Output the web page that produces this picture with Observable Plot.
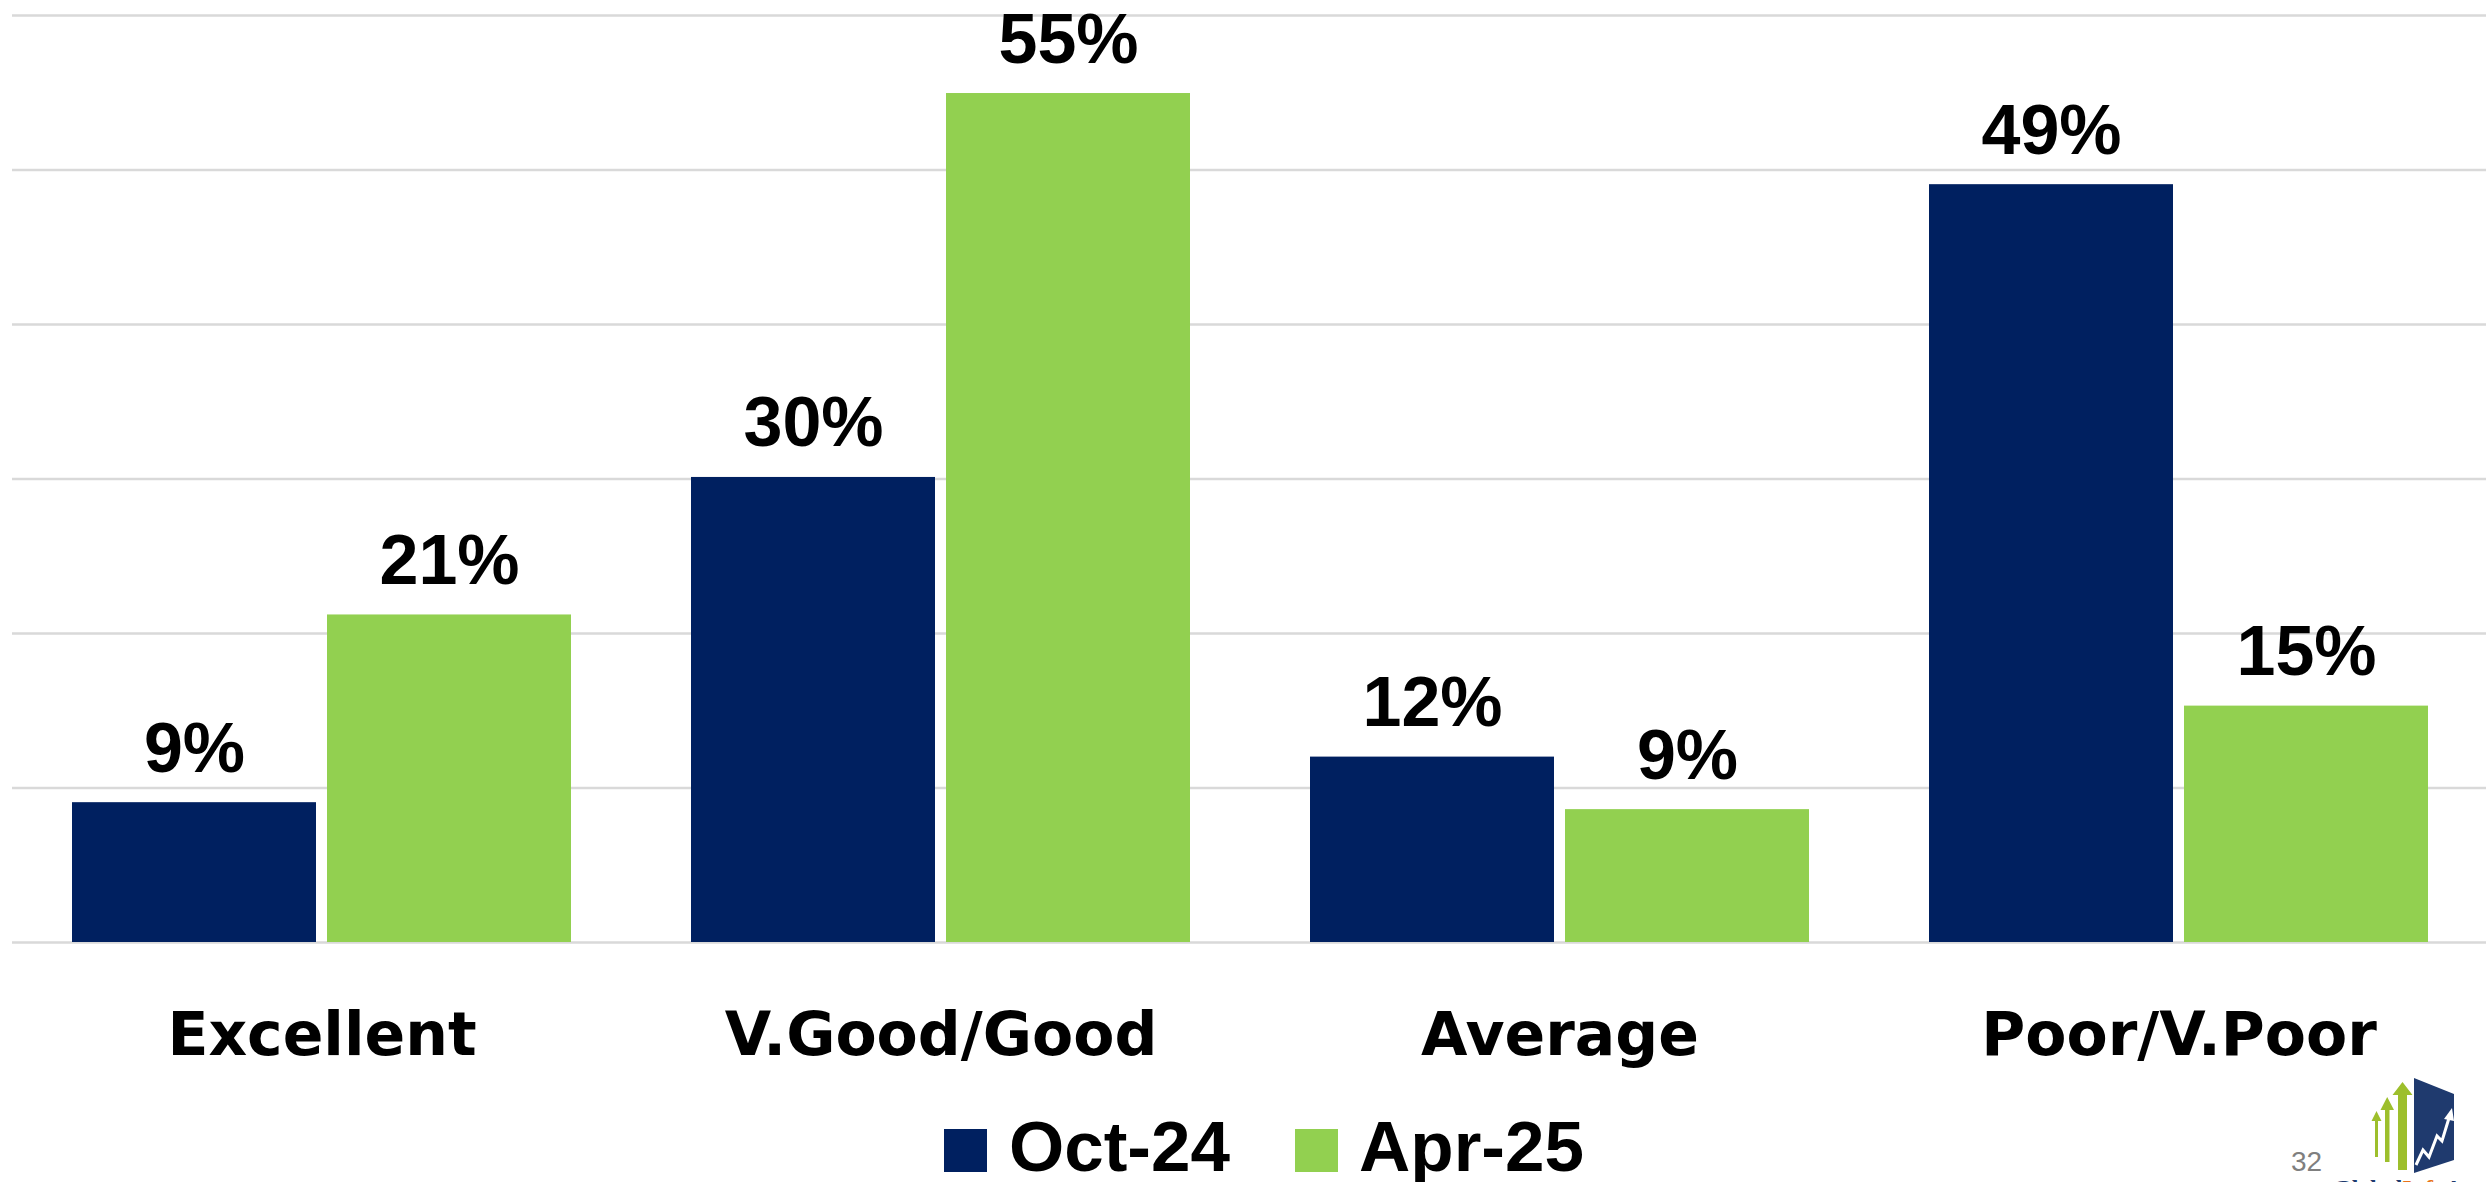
<!DOCTYPE html>
<html>
<head>
<meta charset="utf-8">
<script src="https://cdn.jsdelivr.net/npm/d3@7"></script>
<script src="https://cdn.jsdelivr.net/npm/@observablehq/plot@0.6"></script>
<style>
  html, body { margin: 0; padding: 0; background: #ffffff; overflow: hidden; }
  #wrap { position: relative; width: 2486px; height: 1182px; background: #ffffff; }
  #chart svg { display: block; }
  #chart g[aria-label="fx-axis tick label"] text { font-family: "DejaVu Sans", sans-serif; font-weight: bold; }
  #legend { position: relative; width: 2486px; height: 82px; font-family: "Liberation Sans", Arial, sans-serif; font-weight: bold; font-size: 71px; color: #000; }
  .sw { position: absolute; top: 29px; width: 43px; height: 43px; }
  .lt { position: absolute; top: 17px; line-height: 60px; white-space: nowrap; }
  #pagenum { position: absolute; left: 2291px; top: 1148px; font-family: "Liberation Sans", Arial, sans-serif; font-size: 28px; line-height: 28px; color: #7f7f7f; }
  #logo { position: absolute; left: 2320px; top: 1070px; }
</style>
</head>
<body>
<div id="wrap">
  <div id="chart"></div>
  <div id="legend"></div>
  <div id="pagenum">32</div>
  <svg id="logo" width="166" height="112" viewBox="2320 1070 166 112">
    <g fill="#9dbf2c">
      <polygon points="2375,1157 2378,1157 2378,1121 2381.5,1121 2376.5,1111 2371.5,1121 2375,1121"/>
      <polygon points="2385,1162 2389.5,1162 2389.5,1110 2394,1110 2387.2,1097 2380.5,1110 2385,1110"/>
      <polygon points="2398,1170 2407,1170 2407,1095 2412.5,1095 2402.5,1082 2392.5,1095 2398,1095"/>
    </g>
    <polygon fill="#1f3a6e" points="2414,1078 2454,1094 2454,1160 2414,1173"/>
    <polyline fill="none" stroke="#ffffff" stroke-width="3" points="2416,1165 2423,1150 2429,1157 2437,1136 2442,1141 2449,1118"/>
    <polygon fill="#ffffff" points="2444,1119 2452,1108 2454,1121"/>
    <text x="2333" y="1196" font-family="Liberation Serif, serif" font-size="24" font-weight="bold"><tspan fill="#1f3a6e">Global</tspan><tspan fill="#e8731a">Info</tspan><tspan fill="#1f3a6e">Analytics</tspan></text>
  </svg>
</div>
<script>
// ---- data ----
const categories = ["Excellent", "V.Good/Good", "Average", "Poor/V.Poor"];
const seriesNames = ["Oct-24", "Apr-25"];
const oct24 = [9.05, 30.1, 12.0, 49.05];
const apr25 = [21.2, 54.95, 8.6, 15.3];
const yTicks = [0, 10, 20, 30, 40, 50, 60];
const seriesColors = ["#002060", "#92D050"];

const rows = categories.flatMap((c, i) => [
  {category: c, series: seriesNames[0], value: oct24[i]},
  {category: c, series: seriesNames[1], value: apr25[i]}
]);

const chart = Plot.plot({
  width: 2486,
  height: 1100,
  marginTop: 15,
  marginBottom: 158,
  marginLeft: 10,
  marginRight: 0,
  style: {background: "#ffffff", color: "#000000"},
  fx: {domain: categories, padding: 0, range: [10, 2489], label: null},
  x: {domain: seriesNames, paddingInner: 0.043, paddingOuter: 0.235, axis: null},
  y: {domain: [0, 60], axis: null},
  color: {domain: seriesNames, range: seriesColors},
  marks: [
    Plot.ruleY(yTicks, {stroke: "#d9d9d9", strokeWidth: 2.5}),
    Plot.barY(rows, {fx: "category", x: "series", y: "value", fill: "series"}),
    Plot.text(rows, {
      fx: "category", x: "series", y: "value",
      text: d => Math.round(d.value) + "%",
      lineAnchor: "bottom", dy: -31,
      fontSize: 70, fontWeight: "bold",
      fontFamily: "'Liberation Sans', Arial, sans-serif",
      fill: "#000000"
    }),
    Plot.axisFx({
      anchor: "bottom", tickSize: 0, tickPadding: 70,
      fontSize: 60, fontWeight: "bold",
      fontFamily: "'DejaVu Sans', sans-serif",
      label: null, fill: "#000000"
    })
  ]
});
document.getElementById("chart").appendChild(chart);

// ---- legend ----
const legend = document.getElementById("legend");
const legendLayout = [{sw: 944, tx: 1009}, {sw: 1295, tx: 1359}];
seriesNames.forEach((name, i) => {
  const sw = document.createElement("div");
  sw.className = "sw";
  sw.style.left = legendLayout[i].sw + "px";
  sw.style.background = seriesColors[i];
  legend.appendChild(sw);
  const t = document.createElement("div");
  t.className = "lt";
  t.style.left = legendLayout[i].tx + "px";
  t.textContent = name;
  legend.appendChild(t);
});
</script>
</body>
</html>
